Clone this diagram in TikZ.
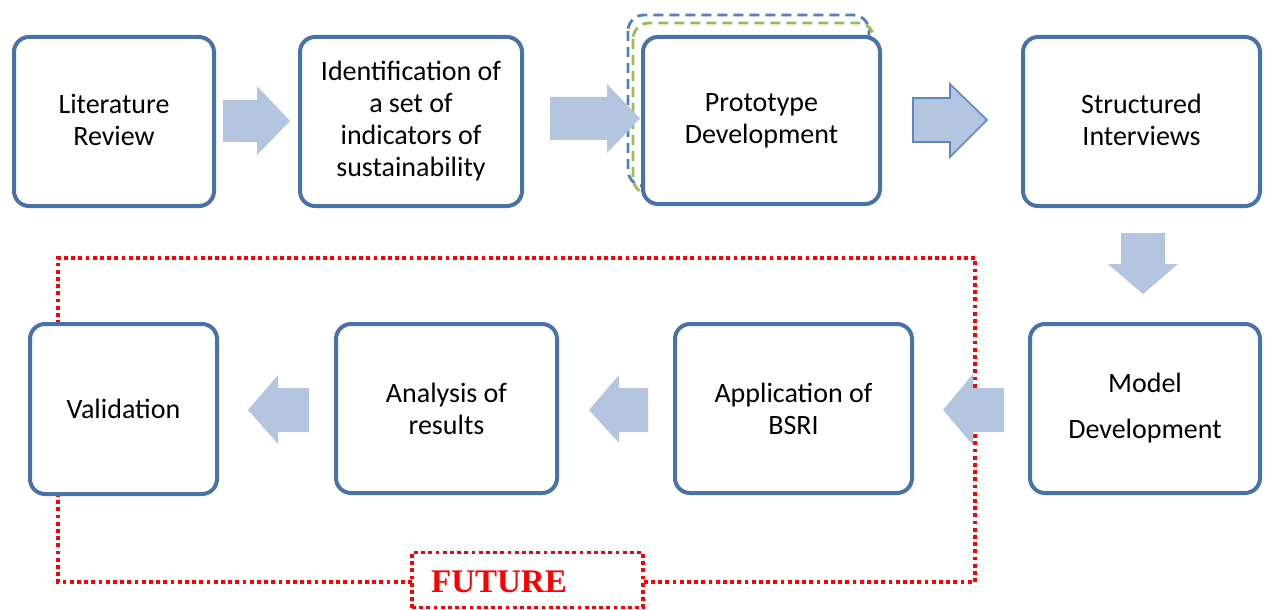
\documentclass[tikz,border=0pt]{standalone}
\usepackage{fontspec}
\setmainfont{Carlito}
\newfontfamily\timesfont{Liberation Serif}
\definecolor{boxblue}{RGB}{72,114,168}
\definecolor{arrowfill}{RGB}{180,197,224}
\definecolor{arrowline}{RGB}{92,137,196}
\definecolor{dashblue}{RGB}{79,129,189}
\definecolor{dashgreen}{RGB}{155,187,89}
\begin{document}
\begin{tikzpicture}[x=0.5pt,y=-0.5pt,
  box/.style={draw=boxblue, line width=2pt, rounded corners=7.5pt, fill=white,
    align=center, font=\fontsize{14}{16}\selectfont, inner sep=0pt},
  barrow/.style={fill=arrowfill},
  reddot/.style={draw=red, line width=1.9pt, dash pattern=on 1.9pt off 1.7pt},
  futurebox/.style={reddot, fill=white, minimum width=115.5pt, minimum height=27.5pt, inner sep=0pt},
  futuretext/.style={text=red, font=\timesfont\bfseries\fontsize{16.5}{18}\selectfont, inner sep=0pt},
  ghost/.style={line width=1.4pt, rounded corners=8pt, dash pattern=on 5pt off 3pt}]
\useasboundingbox (0,0) rectangle (1269,610);

% future frame
\node[futurebox] (fut) at (527.5,580) {};
\coordinate (fl) at (412,582);
\coordinate (fr) at (643,582);
\draw[reddot] (fl) -- (58,582) -- (58,258) -- (975,258) -- (975,582) -- (fr);
\node[futuretext] (futt) at (499,582) {FUTURE};

% ghost outlines behind prototype
\draw[ghost, draw=dashblue] (628,15) rectangle (869,186);
\draw[ghost, draw=dashgreen] (633,23) rectangle (874,194);

% boxes
\node[box, minimum width=100pt, minimum height=84.5pt, text depth=2pt] (lit) at (114,121.5) {Literature\\Review};
\node[box, minimum width=111pt, minimum height=84.5pt] (ident) at (411,121.5) {Identification of\\a set of\\indicators of\\sustainability};
\node[box, minimum width=118.5pt, minimum height=83.5pt] (proto) at (761.5,120.5) {Prototype\\Development};
\node[box, minimum width=118.5pt, minimum height=84.5pt, text depth=2pt] (struct) at (1141.5,121.5) {Structured\\Interviews};
\node[box, minimum width=115pt, minimum height=84.5pt, font=\fontsize{14}{23}\selectfont] (model) at (1145,408.5) {Model\\Development};
\node[box, minimum width=118.5pt, minimum height=84.5pt] (appl) at (793.5,408.5) {Application of\\BSRI};
\node[box, minimum width=110.5pt, minimum height=84.5pt] (anal) at (446.5,408.5) {Analysis of\\results};
\node[box, minimum width=93.5pt, minimum height=85pt] (valid) at (123.5,409) {Validation};

% block arrows
\fill[barrow] (223,100) -- (257,100) -- (257,86) -- (290,121) -- (257,155) -- (257,142) -- (223,142) -- cycle;
\fill[barrow] (550,97) -- (607,97) -- (607,84) -- (640,118.5) -- (607,153) -- (607,140) -- (550,140) -- cycle;
\filldraw[barrow, draw=arrowline, line width=0.8pt] (913,98) -- (950,98) -- (950,84) -- (987,120) -- (950,157) -- (950,142) -- (913,142) -- cycle;
\fill[barrow] (1121,233) -- (1165,233) -- (1165,264) -- (1178,264) -- (1143,294) -- (1108,264) -- (1121,264) -- cycle;
\fill[barrow] (1004,388) -- (973,388) -- (973,374) -- (943,410) -- (973,445) -- (973,432) -- (1004,432) -- cycle;
\fill[barrow] (648,388) -- (619,388) -- (619,375) -- (589,410) -- (619,443) -- (619,432) -- (648,432) -- cycle;
\fill[barrow] (309,388) -- (278,388) -- (278,375) -- (248,410) -- (278,444) -- (278,432) -- (309,432) -- cycle;
\end{tikzpicture}
\end{document}
